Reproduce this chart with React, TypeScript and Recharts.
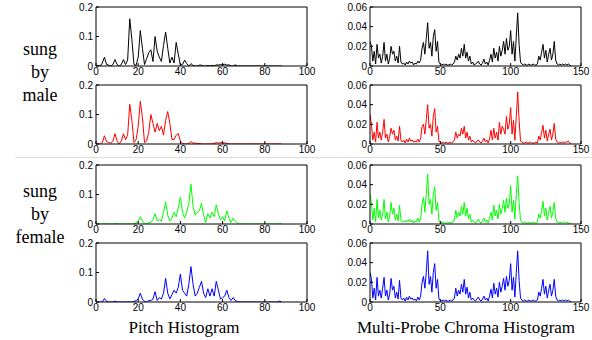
import { LineChart, Line, XAxis, YAxis } from 'recharts'

// Pitch histograms: 89 bins (0..88) on a 0–100 axis
const pitchXTicks = [0, 20, 40, 60, 80, 100]
const pitchYTicks = [0, 0.1, 0.2]

const pitchMale1 = [
  0, 0, 0, 0.01, 0.03, 0.005, 0.003, 0, 0.005, 0.022,
  0.005, 0, 0.005, 0.022, 0.005, 0.02, 0.16, 0.09, 0.005, 0.002,
  0.03, 0.12, 0.06, 0.005, 0.025, 0.045, 0.055, 0.015, 0.1, 0.05,
  0.03, 0.015, 0.07, 0.115, 0.06, 0.01, 0.03, 0.01, 0.08, 0.04,
  0.003, 0.005, 0.02, 0.008, 0, 0.008, 0.002, 0, 0, 0.003,
  0.003, 0, 0, 0.002, 0, 0.002, 0, 0.004, 0.003, 0.005,
  0.004, 0.006, 0.003, 0.004, 0, 0, 0.004, 0, 0, 0,
  0, 0, 0, 0, 0, 0, 0, 0, 0, 0,
  0, 0, 0, 0, 0, 0, 0, 0, 0,
]

const pitchMale2 = [
  0, 0, 0, 0.005, 0.028, 0.008, 0.005, 0.003, 0.01, 0.035,
  0.01, 0, 0.01, 0.035, 0.015, 0.03, 0.135, 0.08, 0.005, 0.015,
  0.06, 0.145, 0.09, 0.005, 0.01, 0.04, 0.1, 0.07, 0.04, 0.07,
  0.045, 0.06, 0.03, 0.08, 0.11, 0.07, 0.015, 0.015, 0.03, 0.035,
  0.01, 0.002, 0, 0, 0.002, 0.008, 0.003, 0.003, 0.002, 0.002,
  0, 0, 0, 0, 0, 0, 0.002, 0.005, 0.003, 0.005,
  0.003, 0.004, 0.002, 0, 0, 0, 0, 0, 0, 0,
  0, 0, 0, 0, 0, 0, 0, 0, 0, 0,
  0, 0, 0, 0, 0, 0, 0, 0, 0,
]

const pitchFemale1 = [
  0, 0, 0, 0, 0.002, 0, 0, 0, 0, 0.002,
  0, 0, 0, 0, 0, 0, 0, 0, 0.002, 0.003,
  0.01, 0.025, 0.01, 0.002, 0, 0.005, 0.005, 0.015, 0.035, 0.01,
  0.015, 0.01, 0.04, 0.075, 0.03, 0.01, 0.02, 0.04, 0.025, 0.055,
  0.09, 0.04, 0.02, 0.04, 0.07, 0.135, 0.06, 0.03, 0.04, 0.045,
  0.07, 0.03, 0.005, 0.035, 0.02, 0.04, 0.025, 0.065, 0.035, 0.015,
  0.025, 0.01, 0.045, 0.02, 0.005, 0.02, 0.01, 0.005, 0, 0,
  0, 0, 0, 0, 0, 0, 0, 0, 0, 0,
  0, 0, 0, 0, 0, 0, 0, 0.002, 0,
]

const pitchFemale2 = [
  0, 0, 0, 0, 0.012, 0.002, 0, 0, 0, 0.003,
  0, 0, 0, 0, 0, 0, 0, 0, 0.002, 0.005,
  0.01, 0.03, 0.01, 0.002, 0, 0.005, 0.005, 0.01, 0.035, 0.005,
  0.015, 0.01, 0.03, 0.08, 0.03, 0.01, 0.025, 0.04, 0.03, 0.05,
  0.095, 0.04, 0.03, 0.02, 0.06, 0.12, 0.06, 0.02, 0.03, 0.05,
  0.07, 0.03, 0.015, 0.045, 0.02, 0.045, 0.02, 0.07, 0.04, 0.01,
  0.015, 0.02, 0.04, 0.015, 0.005, 0.015, 0.005, 0.002, 0, 0,
  0, 0, 0, 0, 0, 0, 0, 0, 0, 0,
  0, 0, 0, 0, 0, 0, 0, 0.003, 0,
]

// Multi-probe chroma histograms: 144 bins (0..143) on a 0–150 axis
const chromaXTicks = [0, 50, 100, 150]
const chromaYTicks = [0, 0.02, 0.04, 0.06]

const chromaMale1 = [
  0.025, 0.02, 0.005, 0.015, 0.002, 0.022, 0.008, 0.012, 0.003, 0.01,
  0.024, 0.005, 0.012, 0.002, 0.008, 0.02, 0.012, 0.015, 0.005, 0.01,
  0.003, 0.02, 0.004, 0.002, 0.003, 0.001, 0.004, 0.002, 0.005, 0.003,
  0.004, 0.001, 0.003, 0.002, 0.005, 0.003, 0.006, 0.018, 0.024, 0.012,
  0.028, 0.044, 0.018, 0.024, 0.01, 0.03, 0.037, 0.015, 0.025, 0.004,
  0.002, 0.001, 0.002, 0.001, 0.002, 0.001, 0.001, 0.002, 0.001, 0.002,
  0.004, 0.01, 0.006, 0.012, 0.008, 0.018, 0.01, 0.022, 0.008, 0.014,
  0.005, 0.01, 0.002, 0.004, 0.001, 0.002, 0.003, 0.005, 0.002, 0.001,
  0.003, 0.007, 0.002, 0.004, 0.001, 0.006, 0.012, 0.004, 0.018, 0.008,
  0.014, 0.005, 0.02, 0.01, 0.016, 0.025, 0.012, 0.028, 0.016, 0.02,
  0.036, 0.012, 0.025, 0.005, 0.03, 0.054, 0.022, 0.004, 0.002, 0.001,
  0.002, 0.001, 0.001, 0.002, 0.001, 0.001, 0.002, 0.001, 0.001, 0.002,
  0.01, 0.006, 0.014, 0.022, 0.008, 0.016, 0.004, 0.012, 0.018, 0.006,
  0.012, 0.025, 0.006, 0.002, 0.001, 0.002, 0.001, 0.002, 0.001, 0.002,
  0.001, 0.002, 0.001, 0,
]

const chromaMale2 = [
  0.03, 0.02, 0.004, 0.012, 0.002, 0.022, 0.006, 0.012, 0.004, 0.012,
  0.025, 0.006, 0.01, 0.002, 0.008, 0.016, 0.01, 0.014, 0.004, 0.008,
  0.003, 0.018, 0.004, 0.002, 0.004, 0.001, 0.005, 0.002, 0.006, 0.003,
  0.004, 0.002, 0.003, 0.002, 0.005, 0.002, 0.006, 0.018, 0.02, 0.01,
  0.025, 0.04, 0.016, 0.02, 0.008, 0.028, 0.036, 0.012, 0.018, 0.003,
  0.002, 0.001, 0.002, 0.001, 0.002, 0.001, 0.001, 0.002, 0.001, 0.002,
  0.004, 0.012, 0.006, 0.01, 0.008, 0.016, 0.01, 0.018, 0.006, 0.012,
  0.004, 0.008, 0.002, 0.004, 0.002, 0.001, 0.003, 0.004, 0.002, 0.001,
  0.003, 0.006, 0.002, 0.004, 0.001, 0.005, 0.014, 0.004, 0.016, 0.006,
  0.012, 0.004, 0.022, 0.01, 0.018, 0.015, 0.01, 0.028, 0.015, 0.02,
  0.037, 0.01, 0.024, 0.004, 0.028, 0.053, 0.024, 0.003, 0.002, 0.001,
  0.001, 0.002, 0.001, 0.001, 0.002, 0.001, 0.001, 0.001, 0.002, 0.001,
  0.008, 0.004, 0.012, 0.019, 0.006, 0.014, 0.003, 0.01, 0.015, 0.004,
  0.01, 0.021, 0.005, 0.002, 0.001, 0.002, 0.001, 0.002, 0.001, 0.002,
  0.002, 0.003, 0.001, 0,
]

const chromaFemale1 = [
  0.03, 0.022, 0.004, 0.016, 0.002, 0.025, 0.006, 0.014, 0.004, 0.01,
  0.025, 0.005, 0.012, 0.002, 0.008, 0.022, 0.01, 0.016, 0.004, 0.01,
  0.003, 0.019, 0.004, 0.002, 0.003, 0.002, 0.004, 0.002, 0.005, 0.002,
  0.004, 0.001, 0.003, 0.002, 0.006, 0.002, 0.006, 0.02, 0.027, 0.012,
  0.03, 0.051, 0.02, 0.025, 0.01, 0.03, 0.038, 0.014, 0.022, 0.003,
  0.002, 0.001, 0.002, 0.001, 0.001, 0.002, 0.001, 0.002, 0.001, 0.002,
  0.004, 0.014, 0.006, 0.012, 0.008, 0.018, 0.01, 0.022, 0.008, 0.016,
  0.005, 0.01, 0.002, 0.004, 0.002, 0.001, 0.003, 0.005, 0.002, 0.001,
  0.003, 0.006, 0.002, 0.004, 0.001, 0.006, 0.012, 0.004, 0.019, 0.008,
  0.014, 0.005, 0.02, 0.01, 0.016, 0.024, 0.012, 0.026, 0.016, 0.02,
  0.039, 0.012, 0.024, 0.005, 0.03, 0.049, 0.022, 0.004, 0.002, 0.001,
  0.002, 0.001, 0.001, 0.002, 0.001, 0.001, 0.002, 0.001, 0.001, 0.002,
  0.01, 0.006, 0.014, 0.023, 0.008, 0.016, 0.004, 0.012, 0.018, 0.006,
  0.012, 0.022, 0.006, 0.002, 0.001, 0.002, 0.001, 0.002, 0.002, 0.001,
  0.002, 0.001, 0.001, 0,
]

const chromaFemale2 = [
  0.03, 0.024, 0.004, 0.014, 0.002, 0.025, 0.006, 0.012, 0.004, 0.014,
  0.025, 0.006, 0.012, 0.002, 0.008, 0.024, 0.012, 0.016, 0.004, 0.01,
  0.003, 0.022, 0.004, 0.002, 0.004, 0.001, 0.005, 0.002, 0.006, 0.003,
  0.004, 0.002, 0.003, 0.001, 0.005, 0.002, 0.006, 0.02, 0.026, 0.014,
  0.03, 0.052, 0.018, 0.026, 0.01, 0.03, 0.039, 0.014, 0.023, 0.003,
  0.002, 0.001, 0.002, 0.001, 0.002, 0.001, 0.001, 0.002, 0.001, 0.002,
  0.004, 0.014, 0.006, 0.012, 0.008, 0.018, 0.01, 0.023, 0.008, 0.015,
  0.004, 0.01, 0.002, 0.004, 0.002, 0.001, 0.003, 0.005, 0.002, 0.001,
  0.003, 0.006, 0.002, 0.004, 0.001, 0.006, 0.013, 0.004, 0.019, 0.008,
  0.014, 0.005, 0.02, 0.01, 0.016, 0.024, 0.012, 0.026, 0.016, 0.022,
  0.039, 0.012, 0.025, 0.005, 0.03, 0.052, 0.022, 0.004, 0.002, 0.001,
  0.002, 0.001, 0.001, 0.002, 0.001, 0.001, 0.002, 0.001, 0.001, 0.002,
  0.01, 0.006, 0.014, 0.023, 0.008, 0.016, 0.004, 0.012, 0.018, 0.006,
  0.012, 0.023, 0.006, 0.002, 0.001, 0.002, 0.001, 0.002, 0.001, 0.002,
  0.001, 0.002, 0.001, 0,
]

const PLOT_W = 211
const PLOT_H = 59
const AXIS_LEFT = 30
const AXIS_BOTTOM = 16
const PAD_TOP = 8
const PAD_RIGHT = 10

const tickStyle = { fill: '#000', fontSize: 10, fontFamily: '"Liberation Sans", Arial, sans-serif' }
const serif = '"Liberation Serif", "Times New Roman", serif'

interface PanelProps {
  values: number[]
  color: string
  left: number
  top: number
  xMax: number
  xTicks: number[]
  yMax: number
  yTicks: number[]
}

// one boxed histogram with inward ticks on all four sides
function HistPanel({ values, color, left, top, xMax, xTicks, yMax, yTicks }: PanelProps) {
  const data = values.map((v, i) => ({ bin: i, v }))
  return (
    <div style={{ position: 'absolute', left: left - AXIS_LEFT, top: top - PAD_TOP }}>
      <LineChart
        width={AXIS_LEFT + PLOT_W + PAD_RIGHT}
        height={PAD_TOP + PLOT_H + AXIS_BOTTOM}
        data={data}
        margin={{ top: PAD_TOP - 1, right: PAD_RIGHT - 1, left: 0, bottom: 0 }}
      >
        <XAxis
          dataKey="bin"
          type="number"
          domain={[0, xMax]}
          ticks={xTicks}
          interval={0}
          allowDataOverflow
          tickSize={-3}
          tickMargin={5}
          height={AXIS_BOTTOM}
          stroke="#000"
          tick={tickStyle}
        />
        <XAxis
          xAxisId="top"
          orientation="top"
          dataKey="bin"
          type="number"
          domain={[0, xMax]}
          ticks={xTicks}
          interval={0}
          allowDataOverflow
          tickSize={-3}
          height={1}
          stroke="#000"
          tick={false}
        />
        <YAxis
          type="number"
          domain={[0, yMax]}
          ticks={yTicks}
          interval={0}
          allowDataOverflow
          tickSize={-3}
          tickMargin={6}
          width={AXIS_LEFT}
          stroke="#000"
          tick={tickStyle}
        />
        <YAxis
          yAxisId="right"
          orientation="right"
          type="number"
          domain={[0, yMax]}
          ticks={yTicks}
          interval={0}
          allowDataOverflow
          tickSize={-3}
          width={1}
          stroke="#000"
          tick={false}
        />
        <Line
          dataKey="v"
          type="linear"
          stroke={color}
          strokeWidth={1}
          dot={false}
          isAnimationActive={false}
        />
      </LineChart>
    </div>
  )
}

const rowTops = [7, 85, 165, 243]
const pitchLeft = 96
const chromaLeft = 370

export default function App() {
  const pitch = { xMax: 100, xTicks: pitchXTicks, yMax: 0.2, yTicks: pitchYTicks }
  const chroma = { xMax: 150, xTicks: chromaXTicks, yMax: 0.06, yTicks: chromaYTicks }
  return (
    <div style={{ position: 'absolute', left: 0, top: 0, width: 592, height: 340, background: '#fff' }}>
      <svg width={592} height={340} style={{ position: 'absolute', left: 0, top: 0 }}>
        <line x1={15} x2={592} y1={157.5} y2={157.5} stroke="#ddd" strokeWidth={1} />
        <g fontFamily={serif} fill="#000" textAnchor="middle">
          <g fontSize={18}>
            <text x={40} y={55}>sung</text>
            <text x={40} y={78}>by</text>
            <text x={40} y={101}>male</text>
            <text x={40} y={197}>sung</text>
            <text x={40} y={220}>by</text>
            <text x={40} y={243}>female</text>
          </g>
          <g fontSize={17}>
            <text x={184} y={333}>Pitch Histogram</text>
            <text x={466} y={333}>Multi-Probe Chroma Histogram</text>
          </g>
        </g>
      </svg>

      <HistPanel values={pitchMale1} color="#000000" left={pitchLeft} top={rowTops[0]} {...pitch} />
      <HistPanel values={pitchMale2} color="#ff0000" left={pitchLeft} top={rowTops[1]} {...pitch} />
      <HistPanel values={pitchFemale1} color="#00ff00" left={pitchLeft} top={rowTops[2]} {...pitch} />
      <HistPanel values={pitchFemale2} color="#0000ff" left={pitchLeft} top={rowTops[3]} {...pitch} />

      <HistPanel values={chromaMale1} color="#000000" left={chromaLeft} top={rowTops[0]} {...chroma} />
      <HistPanel values={chromaMale2} color="#ff0000" left={chromaLeft} top={rowTops[1]} {...chroma} />
      <HistPanel values={chromaFemale1} color="#00ff00" left={chromaLeft} top={rowTops[2]} {...chroma} />
      <HistPanel values={chromaFemale2} color="#0000ff" left={chromaLeft} top={rowTops[3]} {...chroma} />
    </div>
  )
}
